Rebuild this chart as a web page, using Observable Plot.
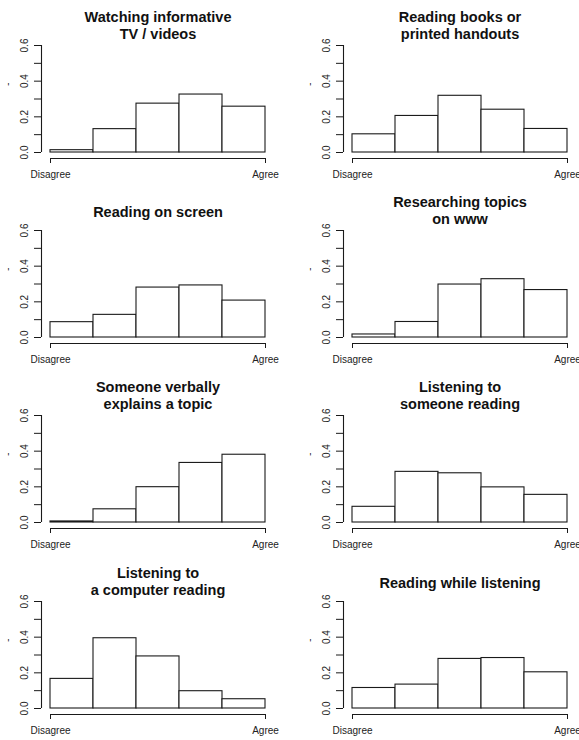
<!DOCTYPE html>
<html>
<head>
<meta charset="utf-8">
<script src="https://cdn.jsdelivr.net/npm/d3@7"></script>
<script src="https://cdn.jsdelivr.net/npm/@observablehq/plot@0.6"></script>
<style>
  html, body { margin: 0; padding: 0; background: #fff; }
  #grid { position: relative; width: 579px; height: 740px; overflow: hidden; background: #fff; }
  #grid > div { position: absolute; width: 302px; height: 185px; }
  #grid svg { display: block; overflow: visible; max-width: none !important; }
</style>
</head>
<body>
<div id="grid"></div>
<script>
// Proportion of answers on a five-point scale, Disagree (1) to Agree (5)
const titles = [
  "Watching informative\nTV / videos",
  "Reading books or\nprinted handouts",
  "Reading on screen",
  "Researching topics\non www",
  "Someone verbally\nexplains a topic",
  "Listening to\nsomeone reading",
  "Listening to\na computer reading",
  "Reading while listening"
];
const watchingVideos     = [0.013, 0.131, 0.274, 0.325, 0.257];
const readingBooks       = [0.102, 0.205, 0.318, 0.240, 0.132];
const readingOnScreen    = [0.086, 0.127, 0.280, 0.292, 0.207];
const researchingWeb     = [0.017, 0.087, 0.297, 0.327, 0.266];
const verbalExplanation  = [0.006, 0.074, 0.198, 0.334, 0.380];
const listeningToPerson  = [0.088, 0.284, 0.276, 0.197, 0.155];
const listeningToComputer= [0.166, 0.394, 0.292, 0.097, 0.052];
const readingListening   = [0.115, 0.134, 0.278, 0.283, 0.203];
const seriesList = [watchingVideos, readingBooks, readingOnScreen, researchingWeb,
                    verbalExplanation, listeningToPerson, listeningToComputer, readingListening];

const yTicks = [0, 0.1, 0.2, 0.3, 0.4, 0.5, 0.6];
const yTickLabels = ["0.0", "", "0.2", "", "0.4", "", "0.6"];
const xTickLabels = ["Disagree", "Agree"];

const colLeft = [0, 302];
const rowTop = [0, 185, 370, 556];
const font = "'Liberation Sans', Arial, Helvetica, sans-serif";

const grid = document.getElementById("grid");

seriesList.forEach((values, k) => {
  const title = titles[k];
  const nLines = title.split("\n").length;
  const chart = Plot.plot({
    width: 302,
    height: 185,
    marginLeft: 50,
    marginRight: 37,
    marginTop: 45,
    marginBottom: 33,
    style: {fontFamily: font, fontSize: "10px", color: "#111", background: "transparent"},
    x: {domain: [0, 5], axis: null},
    y: {domain: [0, 0.6], axis: null},
    marks: [
      // histogram bars
      Plot.rectY(values, {
        x1: (d, i) => i, x2: (d, i) => i + 1, y: d => d,
        fill: "white", stroke: "#1a1a1a", strokeWidth: 1.1
      }),
      // y axis: line, ticks every 0.1, labels every 0.2
      Plot.ruleX([0], {y1: 0, y2: 0.6, dx: -9, stroke: "#1a1a1a", strokeWidth: 1.1}),
      Plot.axisY({
        ticks: yTicks, dx: -9, tickSize: 7, tickPadding: 6.5, tickRotate: -90,
        tickFormat: (d, i) => yTickLabels[i], label: null,
        stroke: "#1a1a1a", fill: "#222", fontSize: 10
      }),
      // x axis: line with end ticks and two end labels
      Plot.ruleY([0], {x1: 0, x2: 5, dy: 6, stroke: "#1a1a1a", strokeWidth: 1.1}),
      Plot.axisX({
        ticks: [0, 5], dy: 6, tickSize: 5, tickPadding: 7,
        tickFormat: (d, i) => xTickLabels[i], label: null,
        stroke: "#1a1a1a", fill: "#222", fontSize: 10
      }),
      // y axis title
      Plot.text(["'"], {frameAnchor: "top-left", dx: -43, dy: 38, fontSize: 10, fill: "#222"}),
      // panel title
      Plot.text([title], {
        frameAnchor: "top", lineAnchor: "bottom", dy: nLines > 1 ? -7 : -14,
        fontSize: 14.5, fontWeight: "bold", lineHeight: 17 / 14.5, fill: "#111"
      })
    ]
  });
  const cell = document.createElement("div");
  cell.style.left = colLeft[k % 2] + "px";
  cell.style.top = rowTop[Math.floor(k / 2)] + "px";
  cell.appendChild(chart);
  grid.appendChild(cell);
});
</script>
</body>
</html>
